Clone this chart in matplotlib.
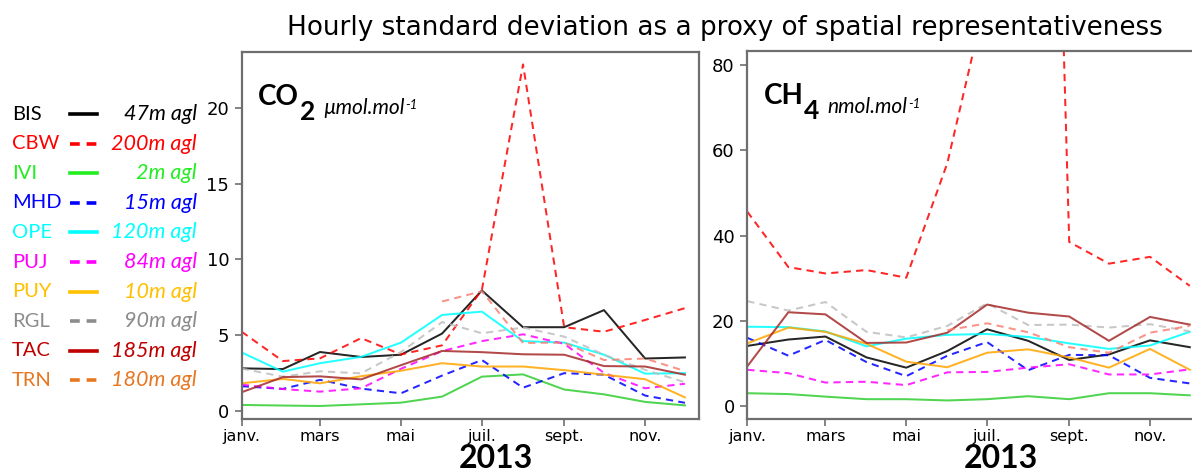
import numpy as np
import matplotlib
matplotlib.use("Agg")
import matplotlib.pyplot as plt
import matplotlib.dates as mdates
from matplotlib.lines import Line2D
from matplotlib import font_manager
import datetime as dt

# ---- data -------------------------------------------------------------
months = [dt.date(2013, m, 1) for m in range(1, 13)]
month_ticks = [dt.date(2013, m, 1) for m in (1, 3, 5, 7, 9, 11)]
month_labels = ["janv.", "mars", "mai", "juil.", "sept.", "nov."]

stations = ["BIS", "CBW", "IVI", "MHD", "OPE", "PUJ", "PUY", "RGL", "TAC", "TRN"]
heights = ["47m agl", "200m agl", "2m agl", "15m agl", "120m agl",
           "84m agl", "10m agl", "90m agl", "185m agl", "180m agl"]
dashed = [False, True, False, True, False, True, False, True, False, True]
legend_colors = ["#000000", "#FF0000", "#22EE22", "#0000FF", "#00FFFF",
                 "#FF00FF", "#FFC000", "#8C8C8C", "#C00000", "#E87722"]
line_colors = ["#000000", "#FF0000", "#32CD32", "#0000FF", "#00FFFF",
               "#FF00FF", "#FFA500", "#BEBEBE", "#A52A2A", "#FA8072"]

nan = np.nan
co2 = {
    "BIS": [2.8, 2.75, 3.88, 3.55, 3.7, 5.1, 7.95, 5.52, 5.52, 6.65, 3.45, 3.52],
    "CBW": [5.22, 3.28, 3.46, 4.8, 3.72, 4.32, 8.0, 22.9, 5.52, 5.22, 6.0, 6.78],
    "IVI": [0.38, 0.34, 0.31, 0.42, 0.53, 0.93, 2.25, 2.4, 1.4, 1.08, 0.58, 0.35],
    "MHD": [1.62, 1.44, 2.04, 1.46, 1.15, 2.32, 3.35, 1.52, 2.48, 2.38, 1.0, 0.52],
    "OPE": [3.85, 2.58, 3.14, 3.56, 4.5, 6.33, 6.55, 4.6, 4.5, 3.7, 2.45, 2.48],
    "PUJ": [1.72, 1.43, 1.26, 1.48, 2.77, 3.94, 4.6, 5.05, 4.42, 2.5, 1.48, 1.78],
    "PUY": [1.81, 2.1, 1.81, 2.28, 2.64, 3.14, 2.92, 2.92, 2.68, 2.38, 2.08, 0.88],
    "RGL": [2.78, 2.25, 2.6, 2.47, 3.88, 5.86, 5.12, 5.5, 4.9, 3.7, 2.7, 1.88],
    "TAC": [1.22, 2.22, 2.27, 2.07, 3.01, 3.95, 3.87, 3.73, 3.7, 2.95, 2.92, 2.38],
    "TRN": [nan, nan, nan, nan, nan, 7.22, 7.9, 4.48, 4.5, 3.35, 3.45, 2.62],
}
ch4 = {
    "BIS": [14.1, 15.6, 16.3, 11.4, 9.0, 12.9, 18.0, 15.3, 10.8, 12.1, 15.4, 13.8],
    "CBW": [45.6, 32.6, 31.1, 31.9, 30.1, 57.0, 97.0, 380.0, 38.5, 33.4, 35.0, 28.2],
    "IVI": [3.0, 2.8, 2.2, 1.6, 1.6, 1.3, 1.6, 2.3, 1.6, 3.0, 3.0, 2.5],
    "MHD": [16.0, 11.8, 15.5, 10.3, 7.0, 11.8, 15.0, 8.4, 12.0, 11.9, 6.6, 5.3],
    "OPE": [18.6, 18.5, 17.5, 14.0, 15.8, 16.7, 16.9, 16.2, 14.7, 13.4, 14.2, 17.4],
    "PUJ": [8.5, 7.7, 5.5, 5.7, 4.9, 7.9, 8.0, 9.0, 9.8, 7.4, 7.4, 8.6],
    "PUY": [14.7, 18.4, 17.4, 14.6, 10.4, 9.1, 12.5, 13.3, 11.4, 9.0, 13.4, 8.5],
    "RGL": [24.6, 22.4, 24.4, 17.4, 16.1, 18.8, 24.1, 19.0, 19.1, 18.4, 19.2, 17.5],
    "TAC": [9.3, 22.0, 21.5, 14.8, 14.9, 17.2, 23.8, 21.9, 21.0, 15.3, 20.9, 19.1],
    "TRN": [nan, nan, nan, nan, nan, 17.8, 19.4, 17.3, 13.8, 12.5, 17.2, 18.8],
}

# ---- fonts ------------------------------------------------------------
installed = {f.name for f in font_manager.fontManager.ttflist}


def pick(*names):
    for n in names:
        if n in installed:
            return n
    return "DejaVu Sans"


title_font = "DejaVu Sans"
label_font = pick("Lato", "Open Sans", "Noto Sans")
tick_font = "DejaVu Sans"

# ---- figure -----------------------------------------------------------
W, H = 1192, 472
fig = plt.figure(figsize=(W / 100, H / 100), dpi=100)


def fig_rect(x0, x1, ytop, ybot):
    return [x0 / W, 1 - ybot / H, (x1 - x0) / W, (ybot - ytop) / H]


ax_co2 = fig.add_axes(fig_rect(241.7, 699.0, 51.7, 419.3))
ax_ch4 = fig.add_axes(fig_rect(747.3, 1203.8, 51.0, 419.0))

xmin = mdates.date2num(dt.date(2013, 1, 1))
xmax = xmin + 344.6
x = mdates.date2num(months)

spine_col = "#6E6E6E"


def style_axes(ax, series, ylim, yticks):
    for i, name in enumerate(stations):
        kw = dict(color=line_colors[i], lw=1.45, alpha=0.85)
        if dashed[i]:
            kw["dashes"] = (3.6, 2.6)
        ax.plot(x, series[name], **kw)
    ax.set_xlim(xmin, xmax)
    ax.set_ylim(*ylim)
    ax.set_yticks(yticks)
    ax.set_xticks(mdates.date2num(month_ticks))
    ax.set_xticklabels(month_labels)
    for s in ax.spines.values():
        s.set_color(spine_col)
        s.set_linewidth(1.6)
    ax.tick_params(axis="both", colors=spine_col, labelcolor="black",
                   width=1.2, length=5, direction="out")
    ax.tick_params(axis="y", labelsize=13, pad=4)
    ax.tick_params(axis="x", labelsize=11.5, pad=2)
    for lab in ax.get_xticklabels() + ax.get_yticklabels():
        lab.set_fontfamily(tick_font)


style_axes(ax_co2, co2, (-0.57, 23.74), [0, 5, 10, 15, 20])
style_axes(ax_ch4, ch4, (-3.05, 83.3), [0, 20, 40, 60, 80])


def species_label(ax, main, sub, unit):
    t1 = ax.text(0.036, 0.855, main, transform=ax.transAxes, fontsize=20,
                 fontweight="bold", family=label_font, va="baseline")
    t2 = ax.annotate(sub, xy=(1, 0), xycoords=t1, xytext=(0.5, -7),
                     textcoords="offset points", fontsize=19,
                     fontweight="bold", family=label_font, va="baseline")
    t3 = ax.annotate(unit, xy=(1, 0), xycoords=t2, xytext=(6, 7),
                     textcoords="offset points", fontsize=15, style="italic",
                     family=label_font, va="baseline")
    ax.annotate("-1", xy=(1, 1), xycoords=t3, xytext=(0.5, -8),
                textcoords="offset points", fontsize=9.5, style="italic",
                family=label_font, va="baseline")


species_label(ax_co2, "CO", "2", "\u00b5mol.mol")
species_label(ax_ch4, "CH", "4", "nmol.mol")

for ax in (ax_co2, ax_ch4):
    ax.text(0.555, -0.1325, "2013", transform=ax.transAxes, fontsize=23,
            fontweight="bold", family=label_font, ha="center", va="baseline")

fig.text(724.5 / W, 1 - 28 / H, "Hourly standard deviation as a proxy of spatial representativeness",
         fontsize=18.9, family=title_font, ha="center", va="center")

# ---- station legend ---------------------------------------------------
for i, st in enumerate(stations):
    yc = 114 + i * 29.6
    yf = 1 - yc / H
    fig.text(12 / W, yf, st, color=legend_colors[i], fontsize=14.5,
             family=label_font, ha="left", va="center")
    fig.text(197 / W, yf, heights[i], color=legend_colors[i], fontsize=15.5,
             family=label_font, style="italic", ha="right", va="center")
    lkw = dict(color=legend_colors[i], lw=2.6, transform=fig.transFigure)
    if dashed[i]:
        lkw["dashes"] = (2.7, 1.9)
    fig.add_artist(Line2D([70 / W, 97 / W], [yf, yf], **lkw))

fig.savefig("out.png", dpi=100)
